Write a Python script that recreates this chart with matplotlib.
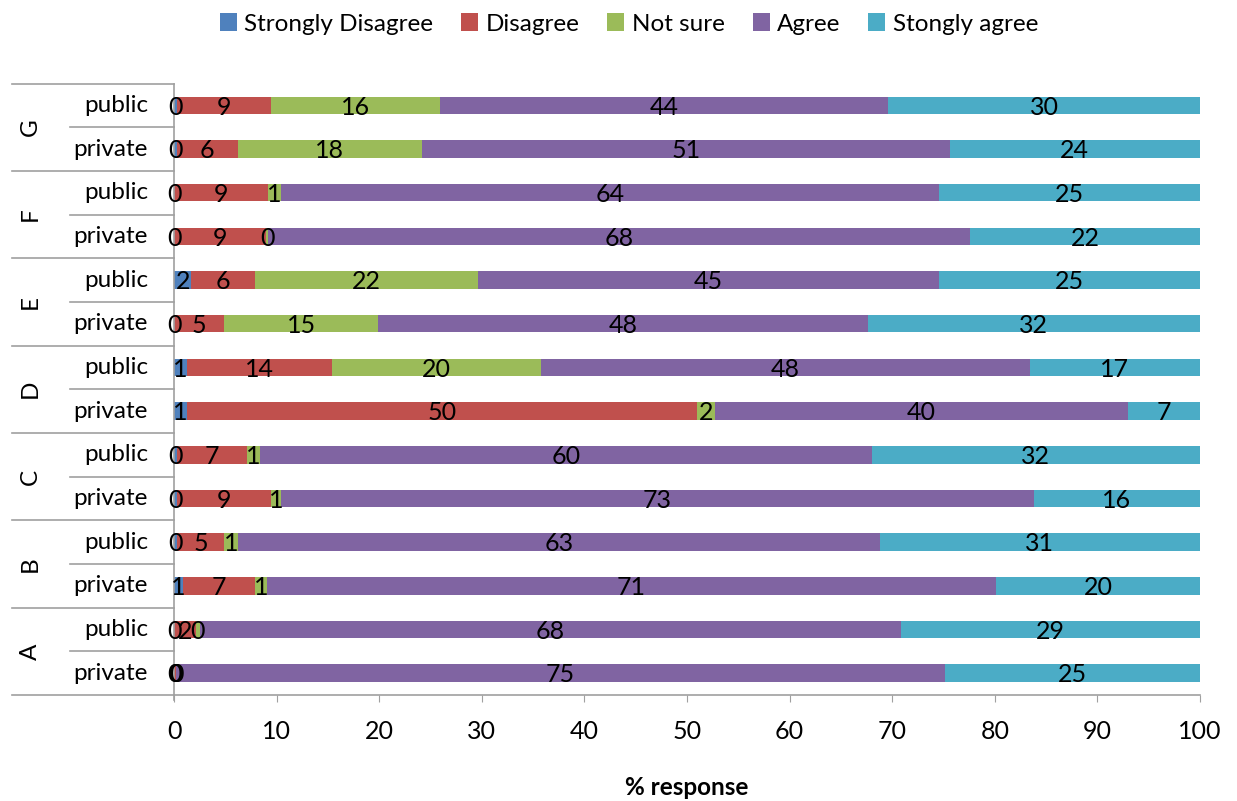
import matplotlib
matplotlib.use("Agg")
import matplotlib.pyplot as plt
from matplotlib.transforms import blended_transform_factory
from matplotlib.patches import Patch

plt.rcParams['font.family'] = ['Lato', 'DejaVu Sans']

# Rows listed bottom to top: (group, sector)
groups = ["A", "B", "C", "D", "E", "F", "G"]
sectors = ["private", "public"]

series_names = ["Strongly Disagree", "Disagree", "Not sure", "Agree", "Stongly agree"]
colors = ["#4F81BD", "#C0504D", "#9BBB59", "#8064A2", "#4BACC6"]

# Percent responses, one entry per row (A private, A public, B private, ... G public)
strongly_disagree = [0.0, 0.0, 0.9, 0.3, 0.3, 0.3, 1.3, 1.3, 0.0, 1.7, 0.0, 0.0, 0.3, 0.3]
disagree          = [0.2, 2.1, 7.0, 4.6, 9.2, 6.8, 49.7, 14.1, 4.9, 6.2, 9.0, 9.2, 5.9, 9.2]
not_sure          = [0.0, 0.4, 1.2, 1.3, 0.9, 1.3, 1.7, 20.4, 15.0, 21.7, 0.2, 1.2, 18.0, 16.4]
agree             = [74.9, 68.4, 71.0, 62.6, 73.4, 59.6, 40.3, 47.6, 47.7, 45.0, 68.4, 64.2, 51.4, 43.7]
strongly_agree    = [24.9, 29.1, 19.9, 31.2, 16.2, 32.0, 7.0, 16.6, 32.4, 25.4, 22.4, 25.4, 24.4, 30.4]

series = [strongly_disagree, disagree, not_sure, agree, strongly_agree]

W, H = 1237, 801
fig = plt.figure(figsize=(W / 100, H / 100), dpi=100)
ax_left, ax_right, ax_top, ax_bottom = 174, 1200, 83.5, 695
ax = fig.add_axes([ax_left / W, 1 - ax_bottom / H,
                   (ax_right - ax_left) / W, (ax_bottom - ax_top) / H])

n_rows = len(strongly_disagree)
ypos = list(range(n_rows))
left = [0.0] * n_rows
for vals, col in zip(series, colors):
    ax.barh(ypos, vals, left=left, height=0.4, color=col, zorder=2)
    for y, l, v in zip(ypos, left, vals):
        ax.text(l + v / 2, y - 0.04, f"{v:.0f}", ha="center", va="center",
                fontsize=18, color="black", zorder=4)
    left = [l + v for l, v in zip(left, vals)]

ax.set_xlim(0, 100)
ax.set_ylim(-0.5, n_rows - 0.5)
ax.set_xticks(range(0, 101, 10))
ax.tick_params(axis="x", labelsize=18, direction="out", length=5,
               color="#a0a0a0", pad=13)
ax.set_yticks([])
for s in ("top", "right"):
    ax.spines[s].set_visible(False)
for s in ("left", "bottom"):
    ax.spines[s].set_color("#a0a0a0")
    ax.spines[s].set_linewidth(1.2)

ax.set_xlabel("% response", fontsize=17.5, fontweight="bold", labelpad=24)

# Two-level category axis drawn to the left of the plot area
trans = blended_transform_factory(fig.transFigure, ax.transData)
line_kw = dict(color="#a0a0a0", linewidth=1.2, transform=trans, clip_on=False)
for g, grp in enumerate(groups):
    for k, sec in enumerate(sectors):
        ax.text(148 / W, 2 * g + k, sec, transform=trans, ha="right",
                va="center", fontsize=17.5)
    ax.text(30 / W, 2 * g + 0.5, grp, transform=trans, ha="center",
            va="center", rotation=90, fontsize=17.5)
    # separator between sectors inside a group
    ax.plot([70 / W, ax_left / W], [2 * g + 0.5] * 2, **line_kw)
    # separator between groups
    ax.plot([12 / W, ax_left / W], [2 * g - 0.5] * 2, **line_kw)
ax.plot([12 / W, ax_left / W], [n_rows - 0.5] * 2, **line_kw)
ax.plot([ax_left / W, ax_left / W], [-0.5, -0.62], **line_kw)

handles = [Patch(facecolor=c, edgecolor="none") for c in colors]
fig.legend(handles, series_names, loc="center", ncol=5, frameon=False,
           bbox_to_anchor=(629 / W, 1 - 24 / H), fontsize=17.5,
           handlelength=0.7, handleheight=0.7, handletextpad=0.3,
           columnspacing=1.15)

fig.savefig("out.png", dpi=100)
